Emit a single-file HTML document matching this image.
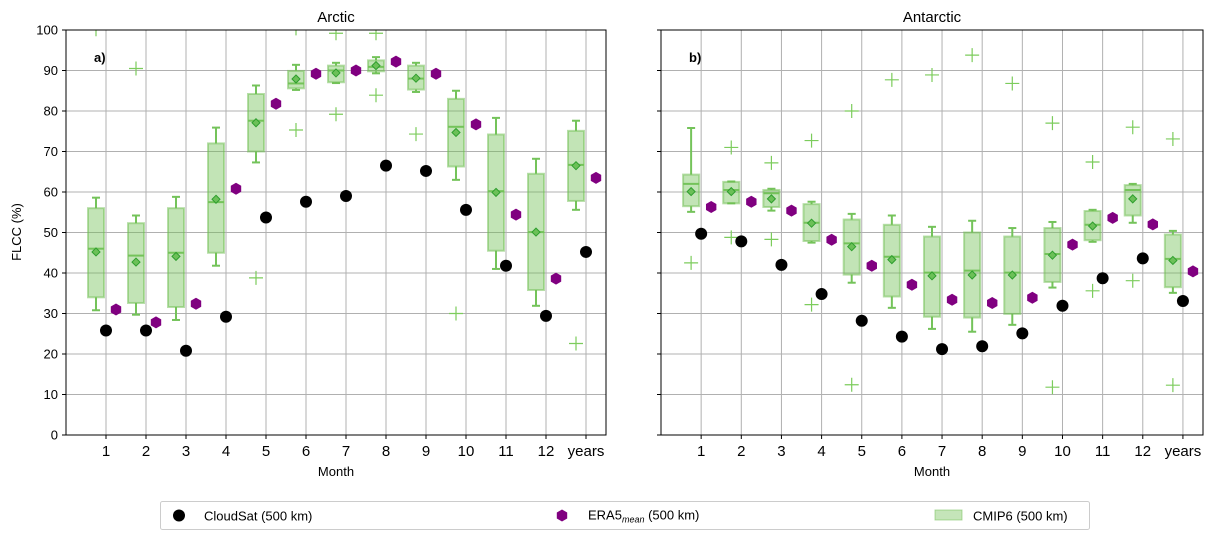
<!DOCTYPE html>
<html><head><meta charset="utf-8"><style>
body{margin:0;background:#fff;font-family:"Liberation Sans","DejaVu Sans",sans-serif}
svg text{font-family:"Liberation Sans","DejaVu Sans",sans-serif}
</style></head><body>
<svg id="chart" width="1215" height="540" viewBox="0 0 1215 540" xmlns="http://www.w3.org/2000/svg">
<g id="g"></g>
<g>
<rect x="160.5" y="501.5" width="929" height="28" fill="#fff" stroke="#ccc" rx="2"/>
<circle cx="179" cy="515.5" r="6" fill="#000"/>
<text x="204" y="520.5" font-size="13">CloudSat (500 km)</text>
<polygon points="562,509.5 567.2,512.5 567.2,518.5 562,521.5 556.8,518.5 556.8,512.5" fill="#800080"/>
<text x="588" y="519.5" font-size="13">ERA5<tspan font-size="9" font-style="italic" dy="3">mean</tspan><tspan dy="-3"> (500 km)</tspan></text>
<rect x="935" y="510" width="27" height="10" fill="rgba(110,190,80,0.4)" stroke="rgba(110,190,80,0.5)"/>
<text x="973" y="520.5" font-size="13">CMIP6 (500 km)</text>
</g>
</svg>
<script>
const months = ["1","2","3","4","5","6","7","8","9","10","11","12","years"];
const yTicks = [0,10,20,30,40,50,60,70,80,90,100];
// Arctic
const arcCloud = [25.8,25.8,20.8,29.2,53.7,57.6,59,66.5,65.2,55.6,41.8,29.4,45.2];
const arcEra = [31,27.8,32.4,60.8,81.8,89.2,90,92.2,89.2,76.7,54.4,38.6,63.5];
const arcWlo = [30.8,29.7,28.4,41.8,67.3,85.2,86.9,89.3,84.7,63,41,31.9,55.6];
const arcQ1 = [34,32.6,31.6,45,70,85.6,87.1,89.8,85.3,66.3,45.5,35.8,57.8];
const arcMed = [46,44.3,45,57.5,77.6,86.8,90,90.9,88,76.1,60.2,50.1,66.7];
const arcQ3 = [56,52.3,56,72,84.2,89.9,91.2,92.5,91.2,83,74.2,64.5,75.1];
const arcWhi = [58.6,54.2,58.8,75.9,86.3,91.4,91.9,93.3,91.9,85,78.3,68.2,77.6];
const arcMean = [45.2,42.7,44.1,58.2,77.1,87.9,89.4,91.2,88.1,74.7,59.9,50.1,66.5];
const arcFliers = [[100.2],[90.5],[],[],[38.8],[75.3,100.4],[79.2,99.2],[83.9,99.2],[74.3],[30],[],[],[22.6]];
// Antarctic
const antCloud = [49.7,47.8,42,34.8,28.2,24.3,21.2,21.9,25.1,31.9,38.7,43.6,33.1];
const antEra = [56.3,57.6,55.4,48.2,41.8,37.1,33.4,32.6,33.9,47,53.6,52,40.4];
const antWlo = [55.1,57.2,55.4,47.5,37.6,31.4,26.2,25.5,27.2,36.4,47.7,52.4,35.1];
const antQ1 = [56.5,57.2,56.3,47.9,39.6,34.2,29.2,29,29.9,37.8,48.1,54.2,36.5];
const antMed = [62,60.5,59.7,52.4,47.3,44,40.1,40.6,40.1,44.7,51.9,60.5,43.5];
const antQ3 = [64.3,62.5,60.5,57,53.2,51.9,49,50,49,51.1,55.3,61.7,49.5];
const antWhi = [75.8,62.6,60.8,57.6,54.6,54.2,51.4,52.9,51.1,52.6,55.6,62,50.4];
const antMean = [60.1,60.1,58.3,52.3,46.5,43.3,39.3,39.5,39.5,44.4,51.6,58.3,43.1];
const antFliers = [[42.5],[71,48.8],[67.2,48.3],[72.7,32.2],[80,12.4],[87.7],[88.9],[93.8],[86.8],[77,11.8],[67.4,35.6],[76,38.1],[73.1,12.3]];

const NS="http://www.w3.org/2000/svg";
const G=document.getElementById('g');
function mk(tag,attrs,parent,txt){const e=document.createElementNS(NS,tag);for(const k in attrs)e.setAttribute(k,attrs[k]);if(txt!==undefined)e.textContent=txt;(parent||G).appendChild(e);return e;}

function panel(p){
  const L=p.x0,R=p.x1,T=30,B=435;
  const xs=v=>L+(v/13.5)*(R-L);
  const ys=v=>B-(v/100)*(B-T);
  const g=mk('g',{});
  
  
  const clip=mk('clipPath',{id:'c'+p.name},g);
  mk('rect',{x:L,y:T,width:R-L,height:B-T},clip);
  const grid=mk('g',{stroke:'#b0b0b0','stroke-width':1},g);
  
  
  yTicks.forEach(t=>{mk('line',{x1:L,x2:R,y1:ys(t),y2:ys(t)},grid);});
  months.forEach((m,i)=>{mk('line',{x1:xs(i+1),x2:xs(i+1),y1:T,y2:B},grid);});
  const marks=mk('g',{'clip-path':'url(#c'+p.name+')'},g);
  const d=p.data;
  months.forEach((m,i)=>{
    const cx=xs(i+0.75),hw=(R-L)/13.5*0.2;
    const bx=mk('g',{},marks);
    
    
    mk('line',{x1:cx,x2:cx,y1:ys(d.whi[i]),y2:ys(d.q3[i]),stroke:'#74c35a','stroke-width':2},bx);
    mk('line',{x1:cx,x2:cx,y1:ys(d.wlo[i]),y2:ys(d.q1[i]),stroke:'#74c35a','stroke-width':2},bx);
    mk('line',{x1:cx-hw/2,x2:cx+hw/2,y1:ys(d.whi[i]),y2:ys(d.whi[i]),stroke:'#74c35a','stroke-width':2},bx);
    mk('line',{x1:cx-hw/2,x2:cx+hw/2,y1:ys(d.wlo[i]),y2:ys(d.wlo[i]),stroke:'#74c35a','stroke-width':2},bx);
    mk('rect',{x:cx-hw,y:ys(d.q3[i]),width:2*hw,height:ys(d.q1[i])-ys(d.q3[i]),fill:'rgba(110,190,80,0.42)',stroke:'rgba(110,190,80,0.5)','stroke-width':2},bx);
    mk('line',{x1:cx-hw,x2:cx+hw,y1:ys(d.med[i]),y2:ys(d.med[i]),stroke:'#74c35a','stroke-width':2},bx);
    const my=ys(d.mean[i]);
    mk('polygon',{points:`${cx},${my-4} ${cx+4},${my} ${cx},${my+4} ${cx-4},${my}`,fill:'#6cc058',stroke:'#2e9e2e','stroke-width':1},bx);
    d.fl[i].forEach(f=>{const fy=ys(f);
      const fe=mk('path',{d:`M${cx-7},${fy}H${cx+7}M${cx},${fy-7}V${fy+7}`,stroke:'#7ccc5c','stroke-width':1.2,fill:'none'},marks);
      
      
    });
    const c=mk('circle',{cx:xs(i+1),cy:ys(d.cloud[i]),r:6,fill:'#000'},marks);
    
    
    const ex=xs(i+1.25),ey=ys(d.era[i]);
    const h=mk('polygon',{points:`${ex},${ey-6} ${ex+5.2},${ey-3} ${ex+5.2},${ey+3} ${ex},${ey+6} ${ex-5.2},${ey+3} ${ex-5.2},${ey-3}`,fill:'#800080'},marks);
    
    
  });
  mk('rect',{x:L,y:T,width:R-L,height:B-T,fill:'none',stroke:'#000','stroke-width':1},g);
  yTicks.forEach(t=>{
    mk('line',{x1:L-4,x2:L,y1:ys(t),y2:ys(t),stroke:'#000'},g);
    if(p.ylabels){const tl=mk('text',{x:L-8,y:ys(t)+4.5,'font-size':13,'text-anchor':'end'},g,String(t));
      
      }
  });
  months.forEach((m,i)=>{
    mk('line',{x1:xs(i+1),x2:xs(i+1),y1:B,y2:B+4,stroke:'#000'},g);
    const tl=mk('text',{x:xs(i+1),y:B+21,'font-size':15,'text-anchor':'middle'},g,m);
    
    
  });
  const ti=mk('text',{x:(L+R)/2,y:22,'font-size':15,'text-anchor':'middle'},g,p.title);
  
  
  const xl=mk('text',{x:(L+R)/2,y:476,'font-size':13,'text-anchor':'middle'},g,'Month');
  
  
  const lb=mk('text',{x:L+28,y:62,'font-size':13,'font-weight':'bold'},g,p.tag);
  
  
}
panel({name:'arctic',x0:66,x1:606,title:'Arctic',tag:'a)',ylabels:true,
  data:{cloud:arcCloud,era:arcEra,wlo:arcWlo,q1:arcQ1,med:arcMed,q3:arcQ3,whi:arcWhi,mean:arcMean,fl:arcFliers}});
panel({name:'antarctic',x0:661,x1:1203,title:'Antarctic',tag:'b)',ylabels:false,
  data:{cloud:antCloud,era:antEra,wlo:antWlo,q1:antQ1,med:antMed,q3:antQ3,whi:antWhi,mean:antMean,fl:antFliers}});
const yl=mk('text',{x:21,y:232,'font-size':13,'text-anchor':'middle',transform:'rotate(-90 21 232)'},G,'FLCC (%)');


</script>
</body></html>
